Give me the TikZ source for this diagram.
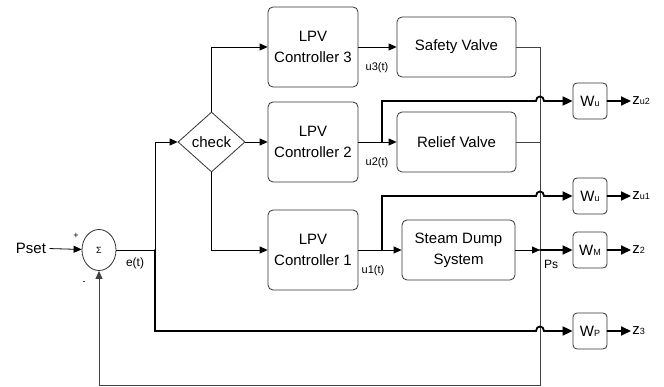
\documentclass[tikz,border=0pt]{standalone}
\usepackage{fontspec}
\setmainfont{Liberation Sans}
\usetikzlibrary{arrows.meta,shapes.geometric}
\newcommand{\lsub}[1]{{\fontsize{9}{9}\selectfont #1}}
\begin{document}
\begin{tikzpicture}[x=1pt,y=-1pt,line cap=round,line width=0.8pt,>={Triangle[length=8pt,width=7pt]},
	every node/.style={font=\fontsize{15}{21}\selectfont},
	sig/.style={font=\fontsize{11}{11}\selectfont,inner sep=1pt},
	ctrlbox/.style={draw=black!80,rounded corners=5pt,minimum width=90pt,minimum height=80pt,align=center,inner sep=0pt},
	plantbox/.style={draw=black!80,rounded corners=5pt,minimum height=60pt,align=center,inner sep=0pt},
	wbox/.style={draw=black!80,rounded corners=4pt,minimum width=34pt,minimum height=36pt,inner sep=0pt},
	thick line/.style={line width=1.8pt,>={Triangle[length=10pt,width=9pt]}}]
	\useasboundingbox (0,0) rectangle (664,387);
	% sum and check
	\node (pset) at (31,248) {Pset};
	\node[draw=black!80,ellipse,minimum width=34pt,minimum height=41pt,inner sep=0pt,font=\fontsize{9}{9}\selectfont] (sum) at (99,250) {Σ};
	\node[sig,font=\fontsize{9}{9}\selectfont] (plus) at (76,236) {+};
	\node[sig,font=\fontsize{9}{9}\selectfont] (minus) at (84,283) {-};
	\node[draw=black!80,diamond,minimum width=67pt,minimum height=60pt,inner sep=0pt] (check) at (211.5,142) {check};
	\coordinate (ej) at (155,250);
	\node[sig,font=\fontsize{12}{12}\selectfont] (et) at (135,263) {e(t)};
	% controllers and plant
	\node[ctrlbox] (ctrlthree) at (313,47) {LPV\\Controller 3};
	\node[ctrlbox] (ctrltwo) at (313,142) {LPV\\Controller 2};
	\node[ctrlbox] (ctrlone) at (313,250) {LPV\\Controller 1};
	\node[plantbox,minimum width=119pt] (safety) at (456.5,47) {Safety Valve};
	\node[plantbox,minimum width=119pt] (relief) at (456.5,142) {Relief Valve};
	\node[plantbox,minimum width=113pt] (dump) at (458.5,250) {Steam Dump\\System};
	\node[sig] (uthree) at (377,68) {u3(t)};
	\node[sig] (utwo) at (377,163) {u2(t)};
	\node[sig] (uone) at (373,271) {u1(t)};
	% weights
	\node[wbox] (wutwo) at (590,101) {W\lsub{u}};
	\node[wbox] (wuone) at (590,196) {W\lsub{u}};
	\node[wbox] (wm) at (590,250) {W\lsub{M}};
	\node[wbox] (wp) at (590,331) {W\lsub{P}};
	\node[anchor=west,inner sep=1pt] (zutwo) at (631,101) {z\lsub{u2}};
	\node[anchor=west,inner sep=1pt] (zuone) at (631,196) {z\lsub{u1}};
	\node[anchor=west,inner sep=1pt] (ztwo) at (631,250) {z\lsub{2}};
	\node[anchor=west,inner sep=1pt] (zthree) at (631,331) {z\lsub{3}};
	\node[sig,font=\fontsize{12}{12}\selectfont] (ps) at (551,264) {Ps};
	\coordinate (busb) at (540,385);
	\coordinate (psj) at (540,250);
	\coordinate (utwoj) at (382,142);
	\coordinate (uonej) at (382,196);
	% connectors
	\draw[->] (pset) -- (sum);
	\draw (sum) -- (ej);
	\draw[->] (ej) |- (check);
	\draw[->] (check) |- (ctrlthree);
	\draw[->] (check) -- (ctrltwo);
	\draw[->] (check) |- (ctrlone);
	\draw[->] (ctrlthree) -- (safety);
	\draw[->] (ctrltwo) -- (relief);
	\draw[->] (ctrlone) -- (dump);
	\draw[draw=black!75,->] (safety) -| (busb) -| (sum);
	\draw[draw=black!75] (relief) -- (relief -| busb);
	\draw[->] (dump) -- (psj);
	\draw[thick line,->] (psj) -- (wm);
	\draw[thick line,->] (utwoj) -- (382,101) -- (536,101) .. controls (536,95) and (544,95) .. (544,101) -- (wutwo);
	\draw[thick line,->] (382,250) -- (uonej) -- (536,196) .. controls (536,190) and (544,190) .. (544,196) -- (wuone);
	\draw[thick line,->] (ej) -- (155,331) -- (536,331) .. controls (536,325) and (544,325) .. (544,331) -- (wp);
	\draw[thick line,->] (wutwo) -- (zutwo);
	\draw[thick line,->] (wuone) -- (zuone);
	\draw[thick line,->] (wm) -- (ztwo);
	\draw[thick line,->] (wp) -- (zthree);
\end{tikzpicture}
\end{document}
